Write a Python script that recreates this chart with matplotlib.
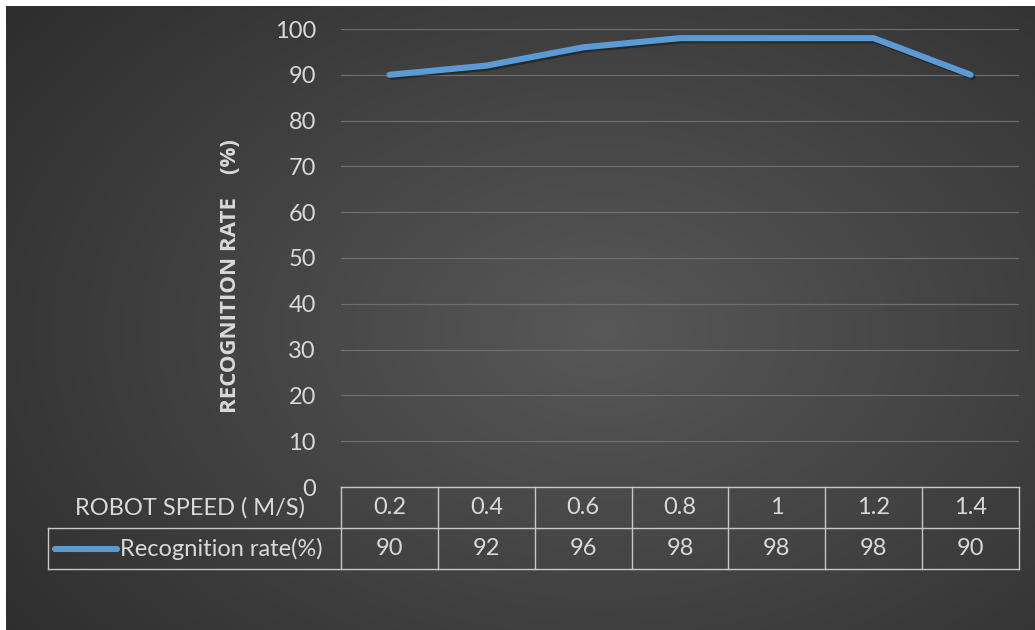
import numpy as np
import matplotlib.pyplot as plt
import matplotlib.patheffects as pe
from matplotlib.transforms import blended_transform_factory

plt.rcParams['font.family'] = ['Lato', 'DejaVu Sans']

# Recognition rate against robot speed
speeds = ['0.2', '0.4', '0.6', '0.8', '1', '1.2', '1.4']
rates = [90, 92, 96, 98, 98, 98, 90]
series_name = 'Recognition rate(%)'
x_title = 'ROBOT SPEED ( M/S)'
y_title = 'RECOGNITION RATE    (%)'
y_ticks = [0, 10, 20, 30, 40, 50, 60, 70, 80, 90, 100]

W, H = 1035, 630
fig = plt.figure(figsize=(W / 100, H / 100), dpi=100)
fig.patch.set_facecolor('white')

# dark radial gradient background (white strip on top and left)
bg = fig.add_axes([6 / W, 0, 1 - 6 / W, 1 - 6 / H])
yy, xx = np.mgrid[0:1:300j, 0:1:500j]
r = np.sqrt(((xx - 0.58) / 0.75) ** 2 + ((yy - 0.52) / 0.85) ** 2)
shade = np.clip(0.345 - 0.17 * r, 0.17, 0.345)
bg.imshow(np.dstack([shade] * 3), aspect='auto', extent=[0, 1, 0, 1],
          interpolation='bicubic')
bg.axis('off')

txt = '#d9d9d9'
grid = '#6e6e6e'
fs = 17

ax = fig.add_axes([341 / W, (H - 487) / H, 678 / W, 458 / H])
ax.patch.set_alpha(0)
x = np.arange(len(speeds))
ax.plot(x, rates, color='#5b9bd5', lw=4.4, solid_capstyle='round',
        solid_joinstyle='round', zorder=3,
        path_effects=[pe.SimpleLineShadow(offset=(1.5, -1.5), alpha=0.35),
                      pe.Normal()])
ax.set_xlim(-0.5, len(speeds) - 0.5)
ax.set_ylim(0, 100)
ax.set_yticks(y_ticks)
ax.set_xticks([])
ax.tick_params(axis='y', length=0, pad=18, labelsize=fs, labelcolor=txt)
for s in ax.spines.values():
    s.set_visible(False)
ax.grid(axis='y', color=grid, lw=0.9)
ax.set_ylabel(y_title, color=txt, fontsize=16, fontweight='bold',
              family=['Open Sans', 'DejaVu Sans'])
ax.yaxis.set_label_coords(-0.147, 0.46)

# data table under the plot
tr = blended_transform_factory(ax.transData, ax.transAxes)
row_h = 41 / 458
col_w = 678 / len(speeds)
line_kw = dict(color='#c8c8c8', lw=1.0, transform=tr, clip_on=False)
left = -0.5
right = len(speeds) - 0.5
lab_left = -0.5 - (341 - 48) / col_w
ax.plot([left, right], [0, 0], **line_kw)
ax.plot([lab_left, right], [-row_h, -row_h], **line_kw)
ax.plot([lab_left, right], [-2 * row_h, -2 * row_h], **line_kw)
for i in range(len(speeds) + 1):
    ax.plot([i - 0.5, i - 0.5], [0, -2 * row_h], **line_kw)
ax.plot([lab_left, lab_left], [-row_h, -2 * row_h], **line_kw)

for i, (s, v) in enumerate(zip(speeds, rates)):
    ax.text(i, -0.5 * row_h, s, transform=tr, ha='center', va='center',
            color=txt, fontsize=fs, clip_on=False)
    ax.text(i, -1.5 * row_h, str(v), transform=tr, ha='center', va='center',
            color=txt, fontsize=fs, clip_on=False)

ax.text(-0.5 - 36 / col_w, -0.5 * row_h, x_title, transform=tr, ha='right',
        va='center', color=txt, fontsize=fs, clip_on=False)
ax.plot([lab_left + 7 / col_w, lab_left + 69 / col_w], [-1.5 * row_h] * 2,
        color='#5b9bd5', lw=4.4, solid_capstyle='round', transform=tr,
        clip_on=False)
ax.text(lab_left + 72 / col_w, -1.5 * row_h, series_name, transform=tr,
        ha='left', va='center', color=txt, fontsize=fs, clip_on=False)

fig.savefig('out.png', dpi=100, facecolor=fig.get_facecolor())
